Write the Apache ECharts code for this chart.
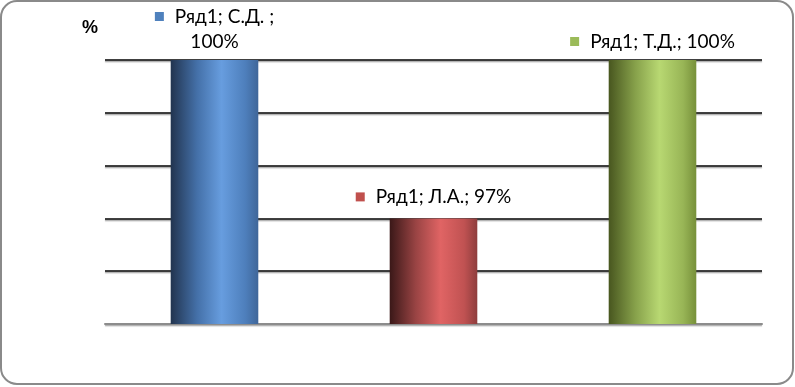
<!DOCTYPE html>
<html><head><meta charset="utf-8">
<script src="https://cdn.jsdelivr.net/npm/echarts@6/dist/echarts.min.js"></script>
<style>html,body{margin:0;padding:0;background:#fff}#c{width:795px;height:387px}</style>
</head><body><div id="c"></div>
<script>
const categories = ['С.Д.', 'Л.А.', 'Т.Д.'];
const seriesName = 'Ряд1';
const values = [100, 97, 100];
const labelLines = [['Ряд1; С.Д. ;', '100%'], ['Ряд1; Л.А.; 97%'], ['Ряд1; Т.Д.; 100%']];
const yMin = 95, yMax = 100, yStep = 1;

const palettes = [
  ['#22344f', '#4470a8', '#679ddf', '#4e7fbc', '#3f6699'],
  ['#3a1818', '#9a4444', '#e06464', '#c05252', '#8e3d3d'],
  ['#48561f', '#86a04a', '#b8d872', '#98b556', '#77903a']
];
const squares = ['#4f81bd', '#c0504d', '#9bbb59'];

function grad(p) {
  return new echarts.graphic.LinearGradient(0, 0, 1, 0, [
    {offset: 0, color: p[0]}, {offset: 0.3, color: p[1]}, {offset: 0.58, color: p[2]},
    {offset: 0.85, color: p[3]}, {offset: 1, color: p[4]}
  ]);
}

const FS = 19;
const txt = {fontFamily: 'Lato', fontSize: FS, color: '#000', lineHeight: 25};

const chart = echarts.init(document.getElementById('c'));
chart.setOption({
  animation: false,
  grid: {left: 105, right: 33, top: 60, bottom: 63},
  graphic: [
    {type: 'rect', shape: {x: 1, y: 1, width: 792, height: 383, r: 16}, style: {fill: 'none', stroke: '#8a8a8a', lineWidth: 2}, z: -1},
    {type: 'text', left: 82, top: 19, style: {text: '%', font: 'bold 18px "Liberation Sans"', fill: '#000'}}
  ],
  xAxis: {type: 'category', data: categories, axisLine: {lineStyle: {color: '#8c8c8c', width: 2}}, axisTick: {show: false}, axisLabel: {show: false}},
  yAxis: {type: 'value', min: yMin, max: yMax, interval: yStep, axisLabel: {show: false}, axisLine: {show: false}, axisTick: {show: false},
    splitLine: {lineStyle: {color: '#000', width: 1.5, shadowColor: 'rgba(0,0,0,0.35)', shadowOffsetY: 1.5, shadowBlur: 1}}},
  series: [{
    type: 'bar', name: seriesName, barWidth: '40%',
    data: values.map((v, i) => ({
      value: v,
      itemStyle: {color: grad(palettes[i])},
      label: {
        show: true, position: 'top', distance: i === 1 ? 9 : 6,
        formatter: () => labelLines[i].map((l, k) => (k === 0 ? '{s|}{g|}' : '') + '{a|' + l + '}').join('\n'),
        fontFamily: 'Lato', fontSize: FS, color: '#000', lineHeight: 25, align: 'center',
        rich: {s: {backgroundColor: squares[i], width: 9, height: 9}, g: {width: 11}, a: txt}
      }
    }))
  }]
});
</script></body></html>
